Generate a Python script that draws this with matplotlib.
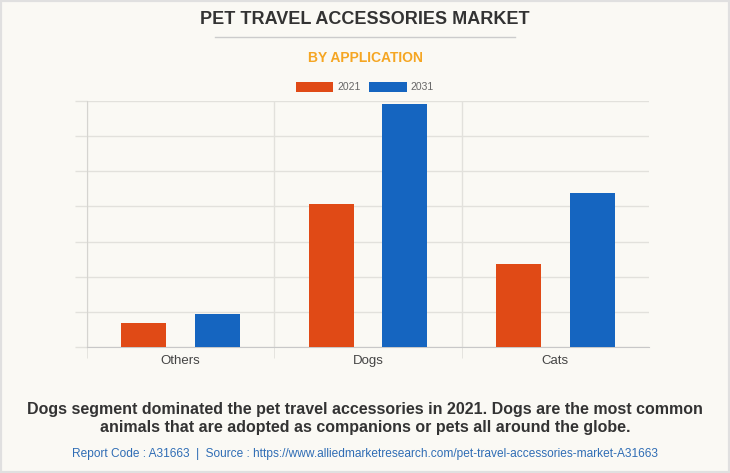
import numpy as np
import matplotlib.pyplot as plt
from matplotlib.patches import Rectangle

categories = ["Others", "Dogs", "Cats"]
years = ["2021", "2031"]
values_2021 = [0.67, 4.08, 2.35]
values_2031 = [0.95, 6.91, 4.39]

BG = "#FAF9F4"
ORANGE = "#E04A16"
BLUE = "#1565C0"
GRID = "#E2E1DC"

plt.rcParams["font.family"] = ["Liberation Sans", "DejaVu Sans"]

fig = plt.figure(figsize=(7.3, 4.73), dpi=100, facecolor=BG)
ax = fig.add_axes([87 / 730, 1 - 347 / 473, 562 / 730, 246 / 473], facecolor=BG)

x = np.arange(len(categories))
w = 0.24
off = 0.197
ax.bar(x - off, values_2021, w, color=ORANGE, label=years[0], zorder=3)
ax.bar(x + off, values_2031, w, color=BLUE, label=years[1], zorder=3)

ax.set_xlim(-0.5, 2.5)
ax.set_ylim(0, 7)
ax.set_yticks(np.arange(0, 8, 1))
ax.set_yticklabels([])
ax.tick_params(axis="y", length=9, color=GRID, width=1)
ax.set_xticks(x)
ax.set_xticklabels(categories, fontsize=9.5, color="#444444")
ax.tick_params(axis="x", length=0, pad=6)
ax.set_xticks([-0.5, 0.5, 1.5], minor=True)
ax.tick_params(axis="x", which="minor", length=8, color=GRID)
ax.grid(True, axis="y", color=GRID, linewidth=1, zorder=0)
ax.grid(True, axis="x", which="minor", color=GRID, linewidth=1, zorder=0)
for s in ["top", "right"]:
    ax.spines[s].set_visible(False)
ax.spines["left"].set_color("#D5D4D0")
ax.spines["bottom"].set_color("#C8C8C8")

fig.text(0.5, 1 - 20 / 473, "PET TRAVEL ACCESSORIES MARKET", ha="center", va="center",
         fontsize=13, fontweight="bold", color="#333333")
fig.add_artist(plt.Line2D([215 / 730, 515 / 730], [1 - 37 / 473] * 2, color="#CCCCCC", linewidth=1))
fig.text(0.5, 1 - 58 / 473, "BY APPLICATION", ha="center", va="center",
         fontsize=10, fontweight="bold", color="#F5A623")

fig.legend(loc="center", bbox_to_anchor=(0.5, 1 - 87 / 473), ncol=2, frameon=False,
           fontsize=7.5, labelcolor="#666666", handlelength=3.6, handleheight=1.1,
           handletextpad=0.4, columnspacing=0.8)

fig.text(0.5, 1 - 418 / 473,
         "Dogs segment dominated the pet travel accessories in 2021. Dogs are the most common\n"
         "animals that are adopted as companions or pets all around the globe.",
         ha="center", va="center", fontsize=11.5, fontweight="bold", color="#333333",
         linespacing=1.25)
fig.text(0.5, 1 - 454 / 473,
         "Report Code : A31663  |  Source : https://www.alliedmarketresearch.com/pet-travel-accessories-market-A31663",
         ha="center", va="center", fontsize=8.6, color="#2F6DB5")

fig.add_artist(Rectangle((0, 0), 1, 1, transform=fig.transFigure, fill=False,
                         edgecolor="#E0E0E0", linewidth=3))

fig.savefig("out.png", dpi=100, facecolor=BG)
